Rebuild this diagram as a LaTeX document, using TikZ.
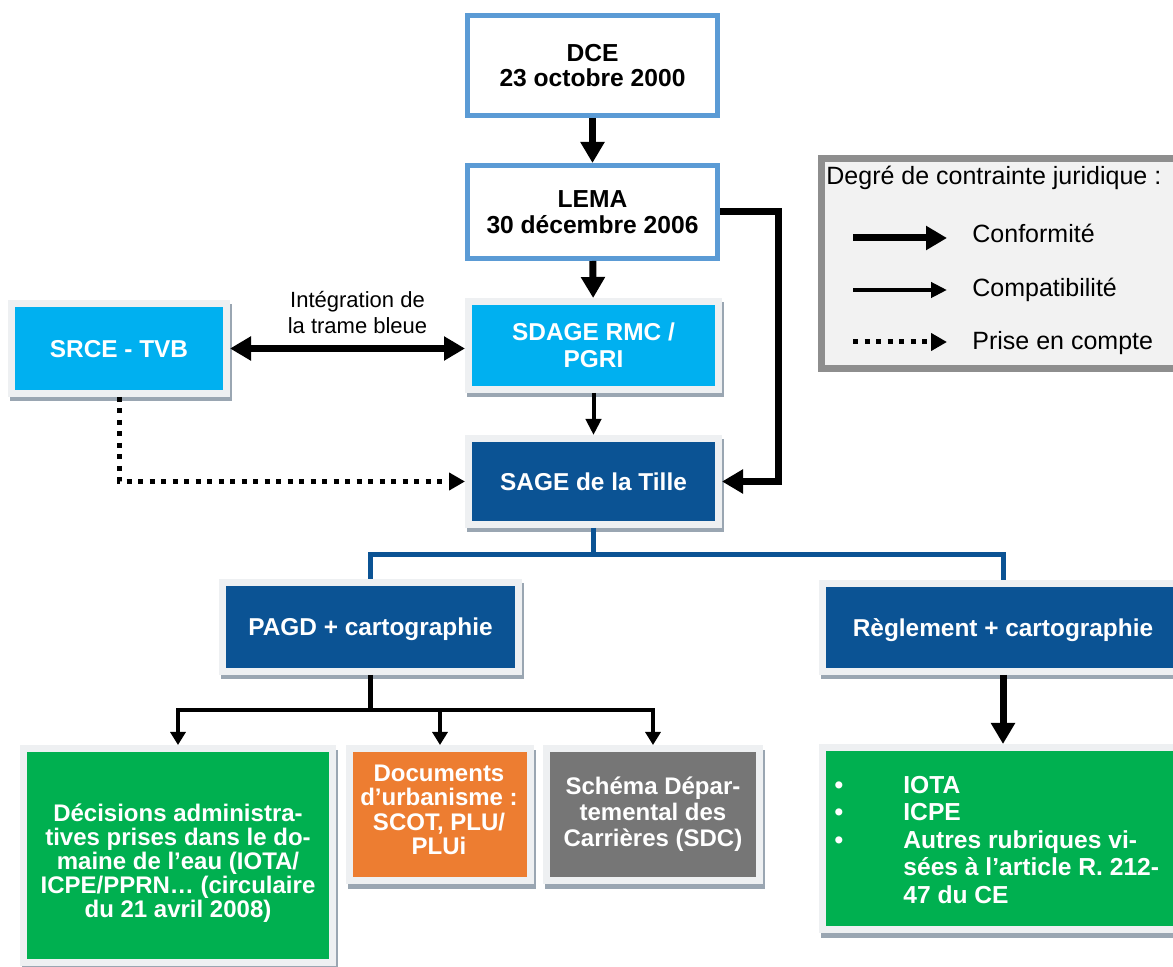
\documentclass[tikz,border=0pt]{standalone}
\usepackage{fontspec}
\setmainfont{Liberation Sans}
\usetikzlibrary{arrows.meta,shadows}

\definecolor{skyblue}{HTML}{00B0F0}
\definecolor{deepblue}{HTML}{0B5394}
\definecolor{leafgreen}{HTML}{00B050}
\definecolor{amber}{HTML}{ED7D31}
\definecolor{slate}{HTML}{767676}
\definecolor{lawblue}{HTML}{5B9BD5}
\definecolor{rim}{HTML}{EEF0F2}
\definecolor{shade}{HTML}{9AA6B2}
\definecolor{legendrim}{HTML}{8E8E8E}
\definecolor{legendbg}{HTML}{F2F2F2}

\begin{document}
\begin{tikzpicture}[x=0.5pt,y=-0.5pt,
  lawbox/.style={draw=lawblue, line width=2.5pt, fill=white, minimum width=125pt,
    inner sep=0pt, align=center, font=\fontsize{12.3}{12.75}\selectfont\bfseries},
  tile/.style={draw=rim, line width=3.5pt, fill=#1, text=white, inner sep=0pt,
    align=center, font=\fontsize{12.2}{13.25}\selectfont\bfseries,
    general shadow={draw=shade, fill=shade, line width=3.5pt,
      shadow xshift=1pt, shadow yshift=-2.25pt}},
  onerow/.style={text height=8.9pt, text depth=0pt},
  boxtext/.style={text=white, inner sep=0pt, align=center},
  listtext/.style={text=white, inner sep=0pt, font=\fontsize{12.3}{13}\selectfont\bfseries},
  legendtext/.style={inner sep=0pt, font=\fontsize{12.5}{13}\selectfont},
  conform/.style={line width=3.5pt, -{Triangle[length=10.5pt,width=11.5pt]}},
  twoway/.style={line width=3.5pt,
    {Triangle[length=10.5pt,width=11.5pt]}-{Triangle[length=10.5pt,width=11.5pt]}},
  compat/.style={line width=2pt, -{Triangle[length=8pt,width=7.5pt]}},
  prise/.style={line width=2.5pt, dash pattern=on 2.5pt off 3.25pt,
    -{Triangle[length=8pt,width=8.5pt]}},
  branch/.style={line width=2.25pt, -{Triangle[length=6.5pt,width=7.5pt]}},
  stem/.style={line width=2.25pt},
  bluetree/.style={draw=deepblue, line width=2.5pt}
]
\useasboundingbox (0,0) rectangle (1173,967);
\fill[white] (0,0) rectangle (1173,967);

% legend panel
\node[draw=legendrim, line width=3.5pt, fill=legendbg, inner sep=0pt,
  minimum width=186pt, minimum height=105pt] (legend) at (1007,263.5) {};
\node[legendtext, anchor=base west] (legtitle) at (826,185) {Degré de contrainte juridique :};
\coordinate (k1a) at (853,238); \coordinate (k1b) at (947,238);
\coordinate (k2a) at (853,290); \coordinate (k2b) at (947,290);
\coordinate (k3a) at (853,342); \coordinate (k3b) at (947,342);
\draw[conform] (k1a) -- (k1b);
\draw[compat] (k2a) -- (k2b);
\draw[prise] (k3a) -- (k3b);
\node[legendtext, anchor=base west] (k1t) at (972,243) {Conformité};
\node[legendtext, anchor=base west] (k2t) at (972,297) {Compatibilité};
\node[legendtext, anchor=base west] (k3t) at (972,350) {Prise en compte};

% laws
\node[lawbox, minimum height=50pt] (dce) at (592.5,65.5) {DCE\\23 octobre 2000};
\node[lawbox, minimum height=46.5pt] (lema) at (592.5,212) {LEMA\\30 décembre 2006};

% planning documents
\node[tile=skyblue, onerow, minimum width=107.5pt, minimum height=45pt] (srce) at (119,348.5) {SRCE - TVB};
\node[tile=skyblue, minimum width=125pt, minimum height=44pt] (sdage) at (593.5,345.5) {SDAGE RMC /\\PGRI};
\node[tile=deepblue, onerow, minimum width=125pt, minimum height=43pt] (sage) at (593.5,481.5) {SAGE de la Tille};
\node[tile=deepblue, onerow, minimum width=148pt, minimum height=44.5pt] (pagd) at (370.5,627) {PAGD + cartographie};
\node[tile=deepblue, onerow, minimum width=180.5pt, minimum height=44pt] (reg) at (1003,627.5) {Règlement + cartographie};

% targets
\node[tile=leafgreen, minimum width=154.5pt, minimum height=107pt] (dec) at (178,855.5) {};
\node[tile=amber, minimum width=90.5pt, minimum height=66pt] (urb) at (440,814.5) {};
\node[tile=slate, minimum width=106.5pt, minimum height=66pt] (sdc) at (653,814.5) {};
\node[tile=leafgreen, minimum width=180.5pt, minimum height=91pt] (rules) at (1003,838.5) {};

\node[boxtext, font=\fontsize{12}{12}\selectfont\bfseries] (dec-t) at (178,863.6)
  {Décisions administra-\\tives prises dans le do-\\maine de l’eau (IOTA/\\ICPE/PPRN… (circulaire\\du 21 avril 2008)};
\node[boxtext, font=\fontsize{12}{12.25}\selectfont\bfseries] (urb-t) at (439,810)
  {Documents\\d’urbanisme :\\SCOT, PLU/\\PLUi};
\node[boxtext, font=\fontsize{12}{13}\selectfont\bfseries] (sdc-t) at (653,814)
  {Schéma Dépar-\\temental des\\Carrières (SDC)};

\node[listtext, anchor=base] (bul1) at (839,793) {•};
\node[listtext, anchor=base] (bul2) at (839,820.5) {•};
\node[listtext, anchor=base] (bul3) at (839,848) {•};
\node[listtext, anchor=base west] (it1) at (903,793) {IOTA};
\node[listtext, anchor=base west] (it2) at (903,820.5) {ICPE};
\node[listtext, anchor=base west] (it3) at (903,848) {Autres rubriques vi-};
\node[listtext, anchor=base west] (it4) at (903,875.5) {sées à l’article R. 212-};
\node[listtext, anchor=base west] (it5) at (903,903) {47 du CE};

% links between documents
\draw[conform] (dce) -- (lema);
\draw[conform] (lema) -- (sdage);
\draw[compat] (sdage) -- (sage);
\coordinate (bend) at (778,212);
\draw[conform] (lema.east) -- (lema.east -| bend) |- (sage.east);
\draw[twoway] (srce.east) -- (srce.east -| sdage.west);
\node[inner sep=0pt, align=center, font=\fontsize{11}{13}\selectfont] (integ) at (357.5,312.4)
  {Intégration de\\la trame bleue};
\draw[prise] (srce.south) |- (sage.west);

% SAGE components
\coordinate (fork) at (592,555);
\draw[bluetree] (sage.south) -- (sage.south |- fork);
\draw[bluetree] (pagd.north) |- (fork) -| (reg.north);

\coordinate (split) at (370.5,710);
\draw[stem] (pagd.south) -- (pagd.south |- split);
\draw[branch] (pagd.south |- split) -| (dec.north);
\draw[branch] (pagd.south |- split) -| (sdc.north);
\draw[branch] (urb.north |- split) -- (urb.north);
\draw[conform] (reg) -- (rules);
\end{tikzpicture}
\end{document}
